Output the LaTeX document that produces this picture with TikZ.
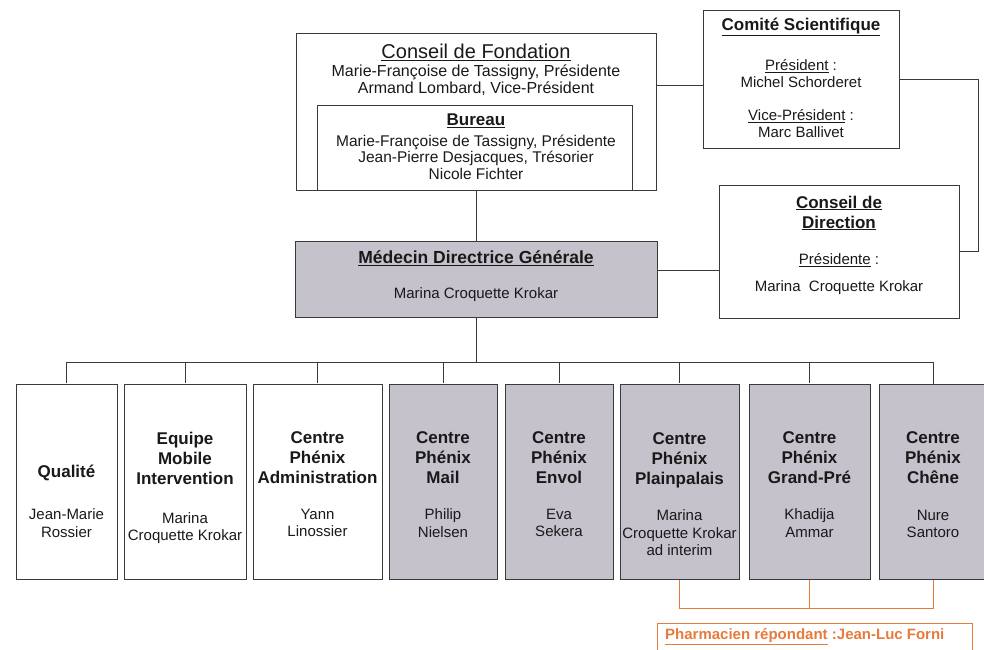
\documentclass[tikz,border=0pt]{standalone}
\usepackage{fontspec}
\setmainfont{Liberation Sans}
\usetikzlibrary{positioning}
\definecolor{linecol}{HTML}{3A3A3A}
\definecolor{boxgrey}{HTML}{C6C2CC}
\definecolor{pharmorange}{HTML}{E57B3C}
\newcommand{\hdfont}{\bfseries\fontsize{17}{20}\selectfont}
\newcommand{\nmfont}{\fontsize{15}{17.5}\selectfont}
\newcommand{\cffont}{\fontsize{15.5}{16.5}\selectfont}

\begin{document}
\begin{tikzpicture}[x=1pt,y=-1pt,
  box/.style={draw=linecol,line width=1pt,inner sep=0pt},
  greybox/.style={box,fill=boxgrey},
  link/.style={linecol,line width=1pt},
  pharmlink/.style={pharmorange,line width=1pt},
  txt/.style={align=center,inner sep=0pt,text=black!90}]
\useasboundingbox (0,0) rectangle (984,649);

% top: foundation board, bureau, scientific committee
\node[box,minimum width=360,minimum height=157] (cf) at (476,111.5) {};
\node[box,minimum width=315,minimum height=85] (bureau) at (474.5,147.5) {};
\node[txt,font=\fontsize{20}{24}\selectfont] (cftitle) at (476,52) {\underline{Conseil de Fondation}};
\node[txt,font=\fontsize{16}{16.5}\selectfont] (cfnames) at (476,80) {Marie-Françoise de Tassigny, Présidente\\Armand Lombard, Vice-Président};
\node[txt,font=\hdfont] (butitle) at (476,121) {\underline{Bureau}};
\node[txt,font=\cffont] (bunames) at (476,157) {Marie-Françoise de Tassigny, Présidente\\Jean-Pierre Desjacques, Trésorier\\Nicole Fichter};

\node[box,minimum width=196,minimum height=138] (cs) at (801,79) {};
\node[txt,font=\hdfont] (cstitle) at (801,27) {\underline{Comité Scientifique}};
\node[txt,font=\nmfont] (cspres) at (801,73.5) {\underline{Président} :\\Michel Schorderet};
\node[txt,font=\nmfont] (csvice) at (801,123.5) {\underline{Vice-Président} :\\Marc Ballivet};

% direction
\node[greybox,minimum width=362,minimum height=76] (med) at (476,279) {};
\node[txt,font=\bfseries\fontsize{17.5}{20}\selectfont] (medtitle) at (476,258) {\underline{Médecin Directrice Générale}};
\node[txt,font=\nmfont] (medname) at (476,295) {Marina Croquette Krokar};

\node[box,minimum width=240,minimum height=133] (cd) at (839,251.5) {};
\node[txt,font=\hdfont] (cdtitle) at (839,213) {\underline{Conseil de}\\\underline{Direction}};
\node[txt,font=\nmfont] (cdpres) at (839,260) {\underline{Présidente} :};
\node[txt,font=\nmfont] (cdname) at (839,288) {Marina\ \ Croquette Krokar};

% units
\node[box,minimum width=101,minimum height=195] (qual) at (66.5,481.5) {};
\node[box,minimum width=122,minimum height=195] (equipe) at (185,481.5) {};
\node[box,minimum width=129,minimum height=195] (admin) at (317.5,481.5) {};
\node[greybox,minimum width=108,minimum height=195] (mail) at (443,481.5) {};
\node[greybox,minimum width=108,minimum height=195] (envol) at (559,481.5) {};
\node[greybox,minimum width=119,minimum height=195] (plain) at (679.5,481.5) {};
\node[greybox,minimum width=121,minimum height=195] (gp) at (809.5,481.5) {};
\node[greybox,minimum width=114,minimum height=195] (chene) at (936,481.5) {};

\node[txt,font=\hdfont] (qualtitle) at (66.5,473) {Qualité};
\node[txt,font=\nmfont] (qualname) at (66.5,523) {Jean-Marie\\Rossier};
\node[txt,font=\hdfont] (equipetitle) at (185,458) {Equipe\\Mobile\\Intervention};
\node[txt,font=\nmfont] (equipename) at (185,528) {Marina\\Croquette Krokar};
\node[txt,font=\hdfont] (admintitle) at (317.5,458) {Centre\\Phénix\\Administration};
\node[txt,font=\nmfont] (adminname) at (317.5,523) {Yann\\Linossier};
\node[txt,font=\hdfont] (mailtitle) at (443,458) {Centre\\Phénix\\Mail};
\node[txt,font=\nmfont] (mailname) at (443,523) {Philip\\Nielsen};
\node[txt,font=\hdfont] (envoltitle) at (559,458) {Centre\\Phénix\\Envol};
\node[txt,font=\nmfont] (envolname) at (559,523) {Eva\\Sekera};
\node[txt,font=\hdfont] (plaintitle) at (679.5,460) {Centre\\Phénix\\Plainpalais};
\node[txt,font=\nmfont] (plainname) at (679.5,533) {Marina\\Croquette Krokar\\ad interim};
\node[txt,font=\hdfont] (gptitle) at (809.5,458) {Centre\\Phénix\\Grand-Pré};
\node[txt,font=\nmfont] (gpname) at (809.5,523) {Khadija\\Ammar};
\node[txt,font=\hdfont] (chenetitle) at (933,458) {Centre\\Phénix\\Chêne};
\node[txt,font=\nmfont] (chenename) at (933,524) {Nure\\Santoro};

% pharmacist
\node[box,draw=pharmorange,minimum width=315,minimum height=40] (pharm) at (814.5,643) {};
\node[anchor=west,inner sep=0pt,text=pharmorange,font=\bfseries\fontsize{15}{18}\selectfont] (pharmtxt) at (665,637) {\underline{Pharmacien répondant} :Jean-Luc Forni};

% connectors
\coordinate (cslink) at ([yshift=-6pt]cs.west);
\draw[link] (cslink) -- (cslink -| cf.east);
\draw[link] (cs.east) -| ([xshift=19pt]cd.east) -- (cd.east);
\draw[link] (cf.south) -- (med.north);
\draw[link] ([yshift=9pt]med.east) -- ([yshift=9pt]med.east -| cd.west);
\coordinate (bus) at (476,362);
\draw[link] (med.south) -- (bus);
\draw[link] (qual.north |- bus) -- (chenetitle |- bus);
\foreach \u in {qual,equipe,admin,mail,envol,plain,gp}
  \draw[link] (\u.north |- bus) -- ([yshift=1pt]\u.north);
\draw[link] (chenetitle |- bus) -- (chenetitle |- chene.north);
\coordinate (pbus) at (809.5,608);
\draw[pharmlink] (plain.south) -- (plain.south |- pbus) -| (chenetitle |- chene.south);
\draw[pharmlink] (gp.south) -- (gp.south |- pbus);
\end{tikzpicture}
\end{document}
